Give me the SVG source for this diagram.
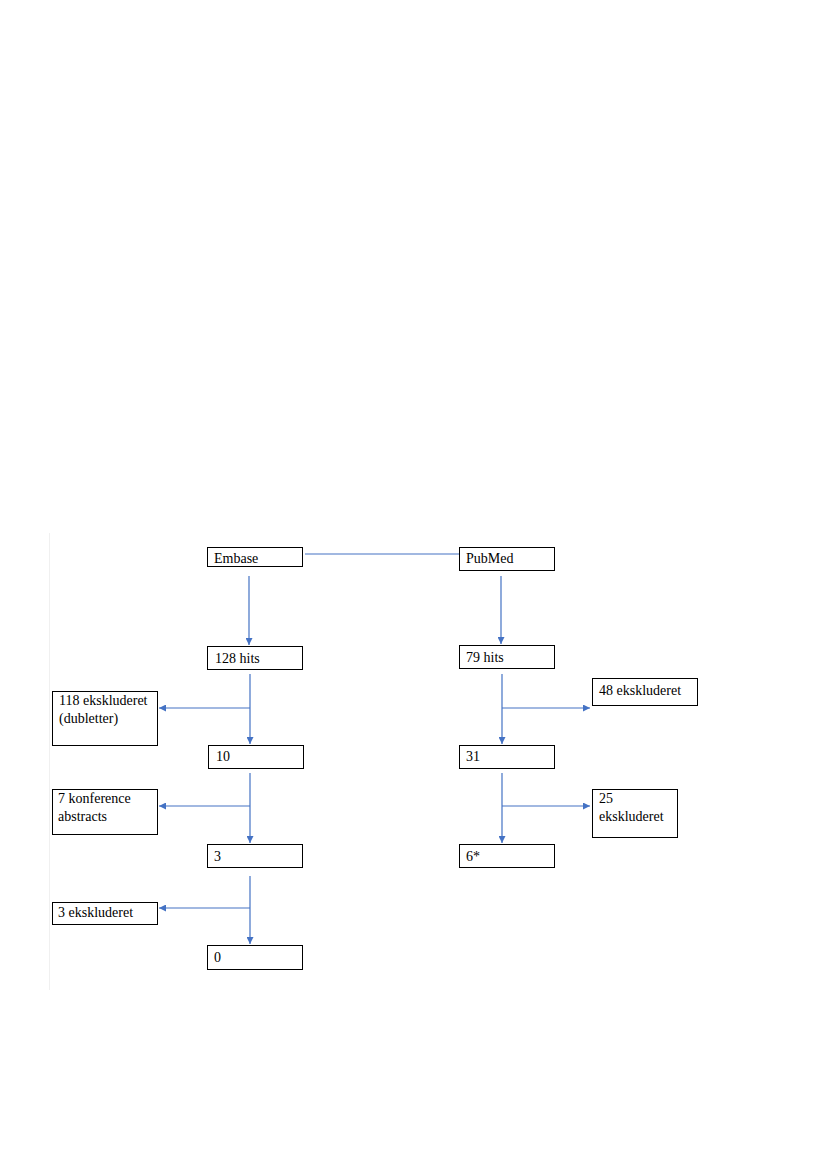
<svg xmlns="http://www.w3.org/2000/svg" width="826" height="1169" viewBox="0 0 826 1169">
<style>
.box{fill:#fff;stroke:#000;stroke-width:1}
.t{font-family:"Liberation Serif","Times New Roman",serif;font-size:14px;fill:#000}
.c{stroke:#4472C4;stroke-width:1.2;fill:none}
</style>
<defs>
<marker id="ah" viewBox="0 0 10 10" refX="10" refY="5" markerWidth="7" markerHeight="7" markerUnits="userSpaceOnUse" orient="auto">
<path d="M0,0 L10,5 L0,10 z" fill="#4472C4"/>
</marker>
</defs>
<rect width="826" height="1169" fill="#fff"/>
<line x1="49.5" y1="533" x2="49.5" y2="990" stroke="#f0f0f0" stroke-width="1"/>
<g id="connectors">
<line class="c" x1="305" y1="554" x2="459" y2="554"/>
<line class="c" x1="249" y1="576" x2="249" y2="645" marker-end="url(#ah)"/>
<line class="c" x1="501" y1="576" x2="501" y2="644" marker-end="url(#ah)"/>
<line class="c" x1="250" y1="674" x2="250" y2="744" marker-end="url(#ah)"/>
<line class="c" x1="250" y1="708" x2="159" y2="708" marker-end="url(#ah)"/>
<line class="c" x1="250" y1="773" x2="250" y2="843" marker-end="url(#ah)"/>
<line class="c" x1="250" y1="806" x2="159" y2="806" marker-end="url(#ah)"/>
<line class="c" x1="250" y1="876" x2="250" y2="944" marker-end="url(#ah)"/>
<line class="c" x1="250" y1="908" x2="159" y2="908" marker-end="url(#ah)"/>
<line class="c" x1="502" y1="674" x2="502" y2="744" marker-end="url(#ah)"/>
<line class="c" x1="502" y1="708" x2="590" y2="708" marker-end="url(#ah)"/>
<line class="c" x1="502" y1="773" x2="502" y2="843" marker-end="url(#ah)"/>
<line class="c" x1="502" y1="806" x2="590" y2="806" marker-end="url(#ah)"/>
</g>
<g id="embase"><rect class="box" x="207.5" y="547.5" width="95" height="19"/><text class="t" x="214" y="563">Embase</text></g>
<g id="pubmed"><rect class="box" x="459.5" y="547.5" width="95" height="23"/><text class="t" x="466" y="563">PubMed</text></g>
<g id="hits128"><rect class="box" x="207.5" y="646.5" width="95" height="23"/><text class="t" x="215" y="663">128 hits</text></g>
<g id="hits79"><rect class="box" x="459.5" y="645.5" width="95" height="23"/><text class="t" x="466" y="662">79 hits</text></g>
<g id="excl118"><rect class="box" x="52.5" y="691.5" width="105" height="54"/><text class="t" x="59" y="705">118 ekskluderet</text><text class="t" x="59" y="723">(dubletter)</text></g>
<g id="excl48"><rect class="box" x="592.5" y="678.5" width="105" height="27"/><text class="t" x="599" y="695">48 ekskluderet</text></g>
<g id="n10"><rect class="box" x="208.5" y="745.5" width="95" height="23"/><text class="t" x="216" y="761">10</text></g>
<g id="n31"><rect class="box" x="459.5" y="745.5" width="95" height="23"/><text class="t" x="466" y="761">31</text></g>
<g id="excl7"><rect class="box" x="52.5" y="789.5" width="105" height="45"/><text class="t" x="58" y="803">7 konference</text><text class="t" x="58" y="821">abstracts</text></g>
<g id="excl25"><rect class="box" x="592.5" y="789.5" width="85" height="48"/><text class="t" x="599" y="803">25</text><text class="t" x="599" y="821">ekskluderet</text></g>
<g id="n3"><rect class="box" x="207.5" y="844.5" width="95" height="23"/><text class="t" x="214" y="861">3</text></g>
<g id="n6"><rect class="box" x="459.5" y="844.5" width="95" height="23"/><text class="t" x="466" y="861">6*</text></g>
<g id="excl3"><rect class="box" x="52.5" y="902.5" width="105" height="22"/><text class="t" x="58" y="917">3 ekskluderet</text></g>
<g id="n0"><rect class="box" x="207.5" y="945.5" width="95" height="24"/><text class="t" x="214" y="962">0</text></g>
</svg>
